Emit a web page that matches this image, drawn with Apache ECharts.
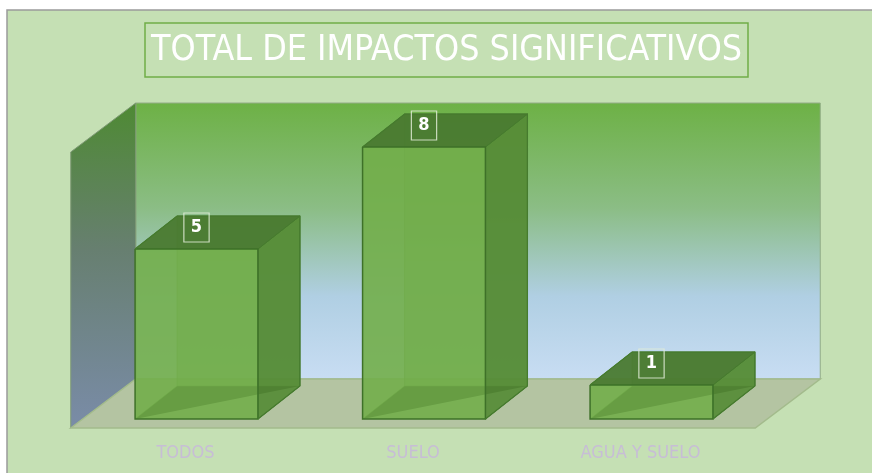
<!DOCTYPE html>
<html>
<head>
<meta charset="utf-8">
<title>Total de impactos significativos</title>
<script src="https://cdn.jsdelivr.net/npm/echarts@6/dist/echarts.min.js"></script>
<style>
  html, body { margin: 0; padding: 0; background: #fff; }
  #chart { width: 872px; height: 473px; }
</style>
</head>
<body>
<div id="chart"></div>
<script>
// datos
const categorias = ['TODOS', 'SUELO', 'AGUA Y SUELO'];
const impactos = [5, 8, 1];

const FONT = "'Liberation Sans Narrow', 'DejaVu Sans Condensed', sans-serif";
const DEPTH = [42, -33];      // profundidad de cada caja
const FLOOR = [65, -49];      // profundidad del suelo / paredes
const BAR_RATIO = 0.54;

const chart = echarts.init(document.getElementById('chart'));

// paredes y suelo del gráfico 3D
const renderWalls = (params, api) => {
  const cs = params.coordSys;
  const y0 = cs.y + cs.height;
  const fl = [cs.x - 12, y0 + 9];
  const fr = [cs.x + cs.width - 10, y0 + 9];
  const bl = [fl[0] + FLOOR[0], fl[1] + FLOOR[1]];
  const br = [fr[0] + FLOOR[0], fr[1] + FLOOR[1]];
  const wallTop = cs.y - 44;
  const leftTop = wallTop - FLOOR[1];
  return {
    type: 'group',
    children: [
      {
        type: 'polygon',
        shape: { points: [[bl[0], wallTop], [br[0], wallTop], br, bl] },
        style: {
          fill: new echarts.graphic.LinearGradient(0, 0, 0, 1, [
            { offset: 0, color: '#6db145' },
            { offset: 0.38, color: '#8bbd85' },
            { offset: 0.7, color: '#b0cfe3' },
            { offset: 1, color: '#c8ddf3' }
          ]),
          stroke: '#93ad86', lineWidth: 1
        }
      },
      {
        type: 'polygon',
        shape: { points: [[fl[0], leftTop], [bl[0], wallTop], bl, fl] },
        style: {
          fill: new echarts.graphic.LinearGradient(0, 0, 0, 1, [
            { offset: 0, color: '#4e8a33' },
            { offset: 0.45, color: '#677f70' },
            { offset: 1, color: '#7a8ca8' }
          ]),
          stroke: '#7f9a76', lineWidth: 1
        }
      },
      {
        type: 'polygon',
        shape: { points: [fl, bl, br, fr] },
        style: { fill: '#b4c4a2', stroke: '#a3bb8c', lineWidth: 1.5 }
      }
    ]
  };
};

// cajas 3D
const renderBox = (params, api) => {
  const idx = api.value(0);
  const val = api.value(1);
  const base = api.coord([idx, 0]);
  const top = api.coord([idx, val]);
  const w = api.size([1, 0])[0] * BAR_RATIO;
  const x0 = base[0] - w / 2, x1 = base[0] + w / 2;
  const yb = base[1], yt = top[1];
  const dx = DEPTH[0], dy = DEPTH[1];
  const edge = { stroke: '#3e7128', lineWidth: 1.5, fill: null };
  const faint = { stroke: 'rgba(80,130,50,0.55)', lineWidth: 1 };
  return {
    type: 'group',
    children: [
      { type: 'polygon', shape: { points: [[x0 + dx, yb + dy], [x1 + dx, yb + dy], [x1 + dx, yt + dy], [x0 + dx, yt + dy]] },
        style: { fill: 'rgba(100,160,65,0.5)' } },
      { type: 'polyline', shape: { points: [[x0, yb], [x0 + dx, yb + dy], [x1 + dx, yb + dy]] }, style: faint },
      { type: 'line', shape: { x1: x0 + dx, y1: yb + dy, x2: x0 + dx, y2: yt + dy }, style: faint },
      { type: 'polygon', shape: { points: [[x1, yb], [x1 + dx, yb + dy], [x1 + dx, yt + dy], [x1, yt]] },
        style: { fill: 'rgba(86,140,55,0.93)', stroke: '#467b2e', lineWidth: 1 } },
      { type: 'polygon', shape: { points: [[x0, yt], [x0 + dx, yt + dy], [x1 + dx, yt + dy], [x1, yt]] },
        style: { fill: 'rgba(74,122,48,0.95)', stroke: '#467b2e', lineWidth: 1 } },
      { type: 'rect', shape: { x: x0, y: yt, width: w, height: yb - yt },
        style: { fill: 'rgba(114,174,74,0.9)' } },
      { type: 'polyline', shape: { points: [[x0, yt], [x0, yb], [x1, yb], [x1, yt], [x0, yt]] }, style: edge },
      { type: 'polyline', shape: { points: [[x1, yb], [x1 + dx, yb + dy], [x1 + dx, yt + dy], [x0 + dx, yt + dy], [x0, yt]] },
        style: { stroke: '#467b2e', lineWidth: 1.2, fill: null } },
      {
        type: 'text',
        style: {
          text: String(val),
          x: base[0], y: yt + dy / 2 - 5,
          align: 'center', verticalAlign: 'middle',
          fill: '#ffffff',
          font: 'bold 18px ' + FONT,
          borderColor: 'rgba(225,236,215,0.85)', borderWidth: 1.2,
          padding: [6, 7, 5, 7]
        }
      }
    ]
  };
};

const option = {
  backgroundColor: '#ffffff',
  animation: false,
  graphic: [
    {
      type: 'rect', z: 0, silent: true,
      shape: { x: 7, y: 10, width: 866, height: 464 },
      style: { fill: '#c5e0b4', stroke: '#9b9b9b', lineWidth: 1.5 }
    }
  ],
  title: {
    text: 'TOTAL DE IMPACTOS SIGNIFICATIVOS',
    left: 145,
    top: 23,
    padding: [9, 6, 8, 6],
    borderColor: '#70ad47',
    borderWidth: 1.5,
    textStyle: { color: '#ffffff', fontFamily: FONT, fontSize: 35.5, fontWeight: 'normal', lineHeight: 37 }
  },
  grid: { left: 82.75, right: 106.75, top: 147, bottom: 54 },
  xAxis: {
    type: 'category',
    data: categorias,
    axisLine: { show: false },
    axisTick: { show: false },
    axisLabel: { color: '#c7bdd6', fontFamily: FONT, fontSize: 18, margin: 25, padding: [0, 22, 0, 0] }
  },
  yAxis: { type: 'value', min: 0, max: 8, show: false },
  series: [
    {
      type: 'custom', z: 1, silent: true,
      renderItem: renderWalls,
      data: [0]
    },
    {
      type: 'custom', z: 3,
      renderItem: renderBox,
      data: impactos.map((v, i) => [i, v])
    }
  ]
};

chart.setOption(option);
window.addEventListener('resize', () => chart.resize());
</script>
</body>
</html>
